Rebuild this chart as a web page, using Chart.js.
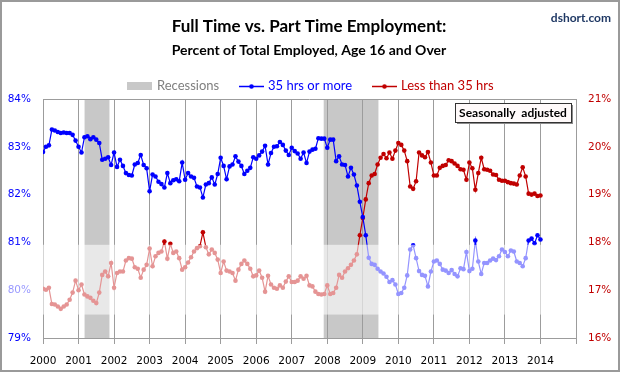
<!DOCTYPE html>
<html>
<head>
<meta charset="utf-8">
<title>Full Time vs. Part Time Employment</title>
<script src="https://cdn.jsdelivr.net/npm/chart.js@4.4.1/dist/chart.umd.min.js"></script>
<style>
  html, body { margin: 0; padding: 0; background: #fff; }
  canvas { display: block; }
</style>
</head>
<body>
<canvas id="chart" width="620" height="372"></canvas>
<script>
// ── Data ─────────────────────────────────────────────────────────
// Monthly, Jan 2000 .. Jan 2014
const START_YEAR = 2000;
const YEAR_TICKS = [2000, 2001, 2002, 2003, 2004, 2005, 2006, 2007,
                    2008, 2009, 2010, 2011, 2012, 2013, 2014];

// 35 hrs or more, % of total employed (left axis)
const FULL_TIME = [
  82.89, 83.00, 83.03, 83.36, 83.34, 83.31, 83.29, 83.30, 83.29, 83.29, 83.25, 83.13, // 2000
  83.00, 82.88, 83.20, 83.22, 83.16, 83.20, 83.15, 83.08, 82.73, 82.75, 82.78, 82.62, // 2001
  82.88, 82.58, 82.73, 82.60, 82.45, 82.41, 82.40, 82.63, 82.66, 82.83, 82.62, 82.55, // 2002
  82.07, 82.42, 82.38, 82.27, 82.22, 82.15, 82.45, 82.24, 82.30, 82.32, 82.28, 82.67, // 2003
  82.31, 82.45, 82.38, 82.35, 82.17, 82.15, 81.94, 82.21, 82.24, 82.36, 82.21, 82.43, // 2004
  82.77, 82.60, 82.32, 82.59, 82.63, 82.80, 82.69, 82.60, 82.43, 82.50, 82.56, 82.78, // 2005
  82.75, 82.82, 82.90, 83.02, 82.63, 82.87, 83.00, 83.01, 83.10, 83.04, 82.92, 82.83, // 2006
  82.98, 82.91, 82.86, 82.75, 82.88, 82.66, 82.90, 82.94, 82.96, 83.18, 83.17, 83.17, // 2007
  82.98, 83.15, 83.15, 82.70, 82.80, 82.63, 82.62, 82.38, 82.56, 82.42, 82.19, 81.85, // 2008
  81.53, 81.15, 80.68, 80.55, 80.53, 80.45, 80.39, 80.35, 80.28, 80.17, 80.21, 80.12, // 2009
  79.92, 79.94, 80.05, 80.31, 80.85, 80.94, 80.67, 80.40, 80.32, 80.30, 80.08, 80.39, // 2010
  80.60, 80.62, 80.55, 80.43, 80.41, 80.36, 80.42, 80.34, 80.29, 80.46, 80.44, 80.80, // 2011
  80.40, 80.45, 81.04, 80.60, 80.34, 80.57, 80.57, 80.62, 80.66, 80.63, 80.71, 80.85, // 2012
  80.80, 80.71, 80.83, 80.81, 80.60, 80.57, 80.50, 80.67, 81.04, 81.08, 80.98, 81.15, // 2013
  81.06                                                                                // 2014
];

// Less than 35 hrs, % of total employed (right axis)
const PART_TIME = [
  17.03, 17.01, 17.05, 16.71, 16.70, 16.66, 16.61, 16.66, 16.70, 16.80, 16.95, 17.20, // 2000
  17.00, 17.12, 16.91, 16.87, 16.84, 16.78, 16.73, 16.95, 17.32, 17.39, 17.29, 17.57, // 2001
  17.05, 17.36, 17.39, 17.39, 17.62, 17.67, 17.66, 17.48, 17.45, 17.26, 17.43, 17.53, // 2002
  17.87, 17.50, 17.71, 17.78, 17.81, 18.02, 17.66, 17.97, 17.78, 17.81, 17.67, 17.43, // 2003
  17.48, 17.58, 17.69, 17.81, 17.88, 17.92, 18.21, 17.90, 17.75, 17.85, 17.78, 17.64, // 2004
  17.36, 17.60, 17.41, 17.39, 17.36, 17.20, 17.43, 17.55, 17.62, 17.55, 17.45, 17.29, // 2005
  17.31, 17.41, 17.26, 16.97, 17.30, 17.12, 17.05, 17.03, 17.10, 17.05, 17.18, 17.29, // 2006
  17.17, 17.17, 17.20, 17.29, 17.24, 17.30, 17.10, 17.08, 16.97, 16.92, 16.91, 16.92, // 2007
  17.10, 16.92, 16.94, 17.05, 17.32, 17.26, 17.39, 17.46, 17.53, 17.62, 17.75, 18.15, // 2008
  18.51, 18.90, 19.24, 19.40, 19.43, 19.63, 19.77, 19.85, 19.76, 19.88, 19.75, 19.92, // 2009
  20.08, 20.04, 19.92, 19.70, 19.17, 19.12, 19.28, 19.88, 19.82, 19.78, 19.89, 19.67, // 2010
  19.40, 19.40, 19.56, 19.60, 19.62, 19.72, 19.70, 19.65, 19.60, 19.53, 19.52, 19.31, // 2011
  19.67, 19.55, 19.10, 19.45, 19.77, 19.53, 19.52, 19.50, 19.42, 19.41, 19.31, 19.29, // 2012
  19.29, 19.26, 19.24, 19.23, 19.21, 19.40, 19.57, 19.38, 19.02, 19.00, 19.02, 18.97, // 2013
  18.98                                                                                // 2014
];

// NBER recessions, as fractional years
const RECESSIONS = [[2001.17, 2001.87], [2007.9, 2009.44]];


// ── Colours & fonts ──────────────────────────────────────────────
const BLUE = '#0000ff';
const RED = '#c00000';
const GRID = '#9c9c9c';
const HEAD_FONT = "Lato, 'Open Sans', sans-serif";
const TICK_FONT = "'DejaVu Sans', Verdana, sans-serif";

const toPoints = values => values.map((v, i) => ({ x: START_YEAR + i / 12, y: v }));


// ── Plugins ──────────────────────────────────────────────────────
const recessionBands = {
  id: 'recessionBands',
  beforeDraw(chart) {
    const { ctx, chartArea: a, scales: { x } } = chart;
    ctx.save();
    ctx.fillStyle = '#c8c8c8';
    RECESSIONS.forEach(([from, to]) => {
      const x0 = x.getPixelForValue(from);
      const x1 = x.getPixelForValue(to);
      ctx.fillRect(x0, a.top, x1 - x0, a.bottom - a.top);
    });
    ctx.restore();
  },
  beforeDatasetsDraw(chart) {
    // top edge of the plot frame
    const { ctx, chartArea: a } = chart;
    ctx.save();
    ctx.strokeStyle = GRID;
    ctx.lineWidth = 1;
    ctx.beginPath();
    ctx.moveTo(a.left, a.top + 0.5);
    ctx.lineTo(a.right, a.top + 0.5);
    ctx.stroke();
    ctx.restore();
  }
};

const header = {
  id: 'header',
  afterDraw(chart) {
    const { ctx, chartArea: a, scales: { y } } = chart;
    ctx.save();

    // faded watermark band across the lower part of the plot
    const bandTop = y.getPixelForValue(80.95);
    const bandBottom = y.getPixelForValue(79.49);
    ctx.fillStyle = 'rgba(255,255,255,0.58)';
    ctx.fillRect(0, bandTop, a.right - 2, bandBottom - bandTop);

    // titles
    ctx.fillStyle = '#000';
    ctx.textAlign = 'center';
    ctx.textBaseline = 'middle';
    ctx.font = `bold 17px ${HEAD_FONT}`;
    ctx.fillText('Full Time vs. Part Time Employment:', 309, 27);
    ctx.font = `bold 14px ${HEAD_FONT}`;
    ctx.fillText('Percent of Total Employed, Age 16 and Over', 309, 50);

    ctx.fillStyle = '#1f3864';
    ctx.textAlign = 'right';
    ctx.font = `bold 12px ${HEAD_FONT}`;
    ctx.fillText('dshort.com', 611, 18);

    // legend
    const ly = 86;
    ctx.textAlign = 'left';
    ctx.font = `13px ${HEAD_FONT}`;
    ctx.fillStyle = '#c8c8c8';
    ctx.fillRect(127, ly - 4, 25, 8);
    ctx.fillStyle = '#7f7f7f';
    ctx.fillText('Recessions', 157, ly);

    [[239, BLUE, '35 hrs or more'], [372, RED, 'Less than 35 hrs']].forEach(([lx, col, label]) => {
      ctx.strokeStyle = col;
      ctx.fillStyle = col;
      ctx.lineWidth = 1.5;
      ctx.beginPath();
      ctx.moveTo(lx, ly + 0.5);
      ctx.lineTo(lx + 25, ly + 0.5);
      ctx.stroke();
      ctx.beginPath();
      ctx.arc(lx + 12.5, ly + 0.5, 2.3, 0, Math.PI * 2);
      ctx.fill();
      ctx.fillText(label, lx + 29, ly);
    });

    // "Seasonally adjusted" note
    const bx = 455, by = 103, bw = 116, bh = 19;
    ctx.fillStyle = '#8a8a8a';
    ctx.fillRect(bx + 2, by + 2, bw, bh);
    ctx.fillStyle = '#fffafa';
    ctx.fillRect(bx, by, bw, bh);
    ctx.strokeStyle = '#333';
    ctx.lineWidth = 1;
    ctx.strokeRect(bx + 0.5, by + 0.5, bw, bh);
    ctx.fillStyle = '#000';
    ctx.textAlign = 'center';
    ctx.font = `bold 12px ${HEAD_FONT}`;
    ctx.fillText('Seasonally  adjusted', bx + bw / 2, by + bh / 2 + 1);

    // picture frame
    ctx.strokeStyle = '#9a9a9a';
    ctx.lineWidth = 2;
    ctx.strokeRect(1, 1, 618, 370);

    ctx.restore();
  }
};


// ── Chart ────────────────────────────────────────────────────────
const lineStyle = color => ({
  borderColor: color,
  backgroundColor: color,
  pointBackgroundColor: color,
  borderWidth: 1.2,
  pointRadius: 2.3,
  pointBorderWidth: 0,
  pointHoverRadius: 0,
  tension: 0,
  fill: false
});

new Chart(document.getElementById('chart'), {
  type: 'line',
  data: {
    datasets: [
      { label: '35 hrs or more', data: toPoints(FULL_TIME), yAxisID: 'y', ...lineStyle(BLUE) },
      { label: 'Less than 35 hrs', data: toPoints(PART_TIME), yAxisID: 'y2', ...lineStyle(RED) }
    ]
  },
  options: {
    responsive: false,
    animation: false,
    devicePixelRatio: 1,
    layout: { padding: { top: 99, left: 0, right: 0, bottom: 0 } },
    plugins: {
      legend: { display: false },
      title: { display: false },
      tooltip: { enabled: false }
    },
    scales: {
      x: {
        type: 'linear',
        min: YEAR_TICKS[0],
        max: YEAR_TICKS[YEAR_TICKS.length - 1] + 1,
        afterBuildTicks: scale => {
          scale.ticks = [...YEAR_TICKS, YEAR_TICKS[YEAR_TICKS.length - 1] + 1].map(v => ({ value: v }));
        },
        afterFit: scale => { scale.height = 34; },
        ticks: {
          autoSkip: false,
          maxRotation: 0,
          padding: 11,
          color: '#000',
          font: { family: TICK_FONT, size: 10.5 },
          callback: v => (YEAR_TICKS.includes(v) ? String(v) : '')
        },
        grid: { color: GRID, tickLength: 6, lineWidth: 1 },
        border: { color: GRID }
      },
      y: {
        position: 'left',
        min: 79,
        max: 84,
        afterFit: scale => { scale.width = 43; },
        ticks: {
          stepSize: 1,
          padding: 12,
          color: BLUE,
          font: { family: TICK_FONT, size: 10.5 },
          callback: v => v + '%'
        },
        grid: { drawOnChartArea: false, tickLength: 0 },
        border: { color: GRID }
      },
      y2: {
        position: 'right',
        min: 16,
        max: 21,
        afterFit: scale => { scale.width = 44; },
        ticks: {
          stepSize: 1,
          padding: 12,
          color: RED,
          font: { family: TICK_FONT, size: 10.5 },
          callback: v => v + '%'
        },
        grid: { drawOnChartArea: false, tickLength: 0 },
        border: { color: GRID }
      }
    }
  },
  plugins: [recessionBands, header]
});
</script>
</body>
</html>
